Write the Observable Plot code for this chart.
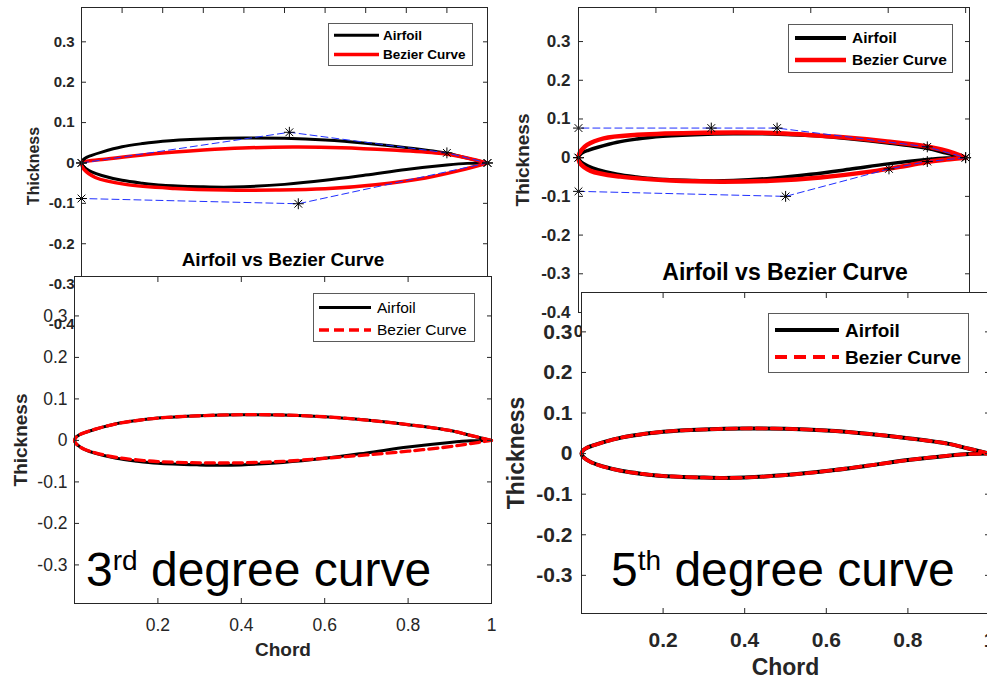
<!DOCTYPE html>
<html>
<head>
<meta charset="utf-8">
<script src="https://cdn.jsdelivr.net/npm/d3@7"></script>
<script src="https://cdn.jsdelivr.net/npm/@observablehq/plot@0.6"></script>
<style>
html, body { margin: 0; padding: 0; background: #fff; overflow: hidden; }
#stage { position: relative; width: 987px; height: 680px; overflow: hidden; background: #fff;
  font-family: "Liberation Sans", Arial, Helvetica, sans-serif; }
.panel { position: absolute; }
.panel svg { overflow: visible; max-width: none; }
.legend { position: absolute; background: #fff; border: 1px solid #5a5a5a; box-sizing: border-box; }
.legend .lab { position: absolute; white-space: nowrap; line-height: 1; color: #000; }
.legend svg { position: absolute; left: 0; top: 0; overflow: visible; }
.txt { position: absolute; white-space: nowrap; line-height: 1; color: #000; }
</style>
</head>
<body>
<div id="stage"></div>
<script>
// ---------------- data ----------------
const legendLabels = ["Airfoil", "Bezier Curve"];
const titleText = "Airfoil vs Bezier Curve";
const xAxisLabel = "Chord";
const yAxisLabel = "Thickness";

// airfoil surface
const chordUpper = [0, 0.004, 0.0125, 0.025, 0.05, 0.1, 0.15, 0.2, 0.3, 0.4, 0.5, 0.6, 0.7, 0.8, 0.9, 0.95, 1];
const thickUpper = [0, 0.008, 0.014, 0.019, 0.027, 0.040, 0.048, 0.054, 0.0595, 0.062, 0.0612, 0.057, 0.049, 0.038, 0.024, 0.012, 0];
const chordLower = [0, 0.004, 0.0125, 0.025, 0.05, 0.1, 0.15, 0.2, 0.3, 0.35, 0.4, 0.5, 0.6, 0.7, 0.8, 0.9, 0.95, 1];
const thickLower = [0, -0.008, -0.015, -0.022, -0.031, -0.043, -0.050, -0.055, -0.059, -0.060, -0.059, -0.053, -0.043, -0.030, -0.016, -0.005, -0.001, 0];

// top-left: first 3rd degree Bezier attempt
const tlBezChordU = [0, 0.067, 0.15, 0.23, 0.3, 0.396, 0.52, 0.64, 0.765, 0.888, 0.95, 1];
const tlBezThickU = [0, 0.0105, 0.02, 0.027, 0.032, 0.037, 0.0395, 0.038, 0.032, 0.0235, 0.0125, 0];
const tlBezChordL = [0, 0.002, 0.006, 0.034, 0.108, 0.23, 0.355, 0.478, 0.6, 0.724, 0.847, 0.93, 1];
const tlBezThickL = [0, -0.008, -0.016, -0.036, -0.053, -0.063, -0.067, -0.067, -0.064, -0.054, -0.037, -0.019, 0];
const tlCtrlChordU = [0, 0.512, 0.9, 1];
const tlCtrlThickU = [0, 0.076, 0.025, 0];
const tlCtrlChordL = [0, 0, 0.534, 1];
const tlCtrlThickL = [0, -0.088, -0.101, 0];

// top-right: 5th degree Bezier attempt
const trBezChordU = [0, 0.002, 0.008, 0.022, 0.065, 0.152, 0.324, 0.496, 0.668, 0.797, 0.9, 0.97, 1];
const trBezThickU = [0, 0.01, 0.02, 0.033, 0.050, 0.059, 0.0645, 0.064, 0.054, 0.042, 0.029, 0.012, 0];
const trBezChordL = [0, 0.001, 0.005, 0.031, 0.108, 0.238, 0.367, 0.496, 0.625, 0.754, 0.84, 0.9, 0.95, 1];
const trBezThickL = [0, -0.007, -0.016, -0.034, -0.049, -0.059, -0.062, -0.0595, -0.051, -0.036, -0.022, -0.011, -0.005, 0];
const trCtrlChordU = [0, 0, 0.343, 0.513, 0.901, 1];
const trCtrlThickU = [0, 0.0765, 0.0765, 0.0765, 0.028, 0];
const trCtrlChordL = [0, 0, 0.535, 0.802, 0.901, 1];
const trCtrlThickL = [0, -0.087, -0.100, -0.029, -0.010, 0];

// bottom-left: fitted 3rd degree curve (upper matches airfoil)
const blBezChordL = [0, 0.004, 0.0125, 0.025, 0.05, 0.1, 0.15, 0.2, 0.3, 0.4, 0.5, 0.6, 0.7, 0.8, 0.9, 0.95, 1];
const blBezThickL = [0, -0.008, -0.015, -0.022, -0.030, -0.041, -0.047, -0.051, -0.054, -0.054, -0.0505, -0.043, -0.035, -0.026, -0.015, -0.0075, 0];

// ticks
const tlXTicks = [0, 0.1, 0.2, 0.3, 0.4, 0.5, 0.6, 0.7, 0.8, 0.9, 1];
const tlXLabels = [];            // hidden behind lower panel
const tlYTicks = [-0.4, -0.3, -0.2, -0.1, 0, 0.1, 0.2, 0.3];
const trXTicks = [0, 0.2, 0.4, 0.6, 0.8, 1];
const trXLabels = [0];           // only the "0" peeks out
const trYTicks = [-0.4, -0.3, -0.2, -0.1, 0, 0.1, 0.2, 0.3];
const bXTicks = [0.2, 0.4, 0.6, 0.8, 1];
const bYTicks = [-0.3, -0.2, -0.1, 0, 0.1, 0.2, 0.3];

// ---------------- helpers ----------------
const FONT = '"Liberation Sans", Arial, Helvetica, sans-serif';
const INK = "#262626";
const fmt = d => String(d);
const pts = (xs, ys) => xs.map((x, i) => ({x, y: ys[i]}));
function closed(xu, yu, xl, yl) {
  const r = [];
  for (let i = xu.length - 1; i >= 0; i--) r.push({x: xu[i], y: yu[i]});
  for (let i = 1; i < xl.length; i++) r.push({x: xl[i], y: yl[i]});
  return r;
}
const stage = document.getElementById("stage");

function panel(c) {
  const marks = [];
  if (c.white) marks.push(Plot.frame({fill: "white", stroke: "none"}));
  marks.push(...c.data);
  marks.push(Plot.frame({stroke: INK, strokeWidth: 1}));
  // inward ticks on all four sides
  marks.push(Plot.axisY(c.yTicks, {anchor: "left", tickSize: -5, fill: "none", stroke: INK, label: null}));
  marks.push(Plot.axisY(c.yTicks, {anchor: "right", tickSize: -5, fill: "none", stroke: INK, label: null}));
  marks.push(Plot.axisX(c.xTicks, {anchor: "top", tickSize: -5, fill: "none", stroke: INK, label: null}));
  marks.push(Plot.axisX(c.xTicks, {anchor: "bottom", tickSize: -5, fill: "none", stroke: INK, label: null}));
  // tick labels
  marks.push(Plot.axisY(c.yTicks, {anchor: "left", tickSize: 0, tickPadding: c.yPad, tickFormat: fmt,
    fontSize: c.tickSize, fontWeight: c.tickWeight, fill: INK, label: null}));
  const xl = c.xLabels ?? c.xTicks;
  if (xl.length) {
    marks.push(Plot.axisX(xl, {anchor: "bottom", tickSize: 0, tickPadding: c.xPad, tickFormat: fmt,
      fontSize: c.tickSize, fontWeight: c.tickWeight, fill: INK, label: null}));
  }
  // axis titles
  marks.push(Plot.axisY([], {anchor: "left", tickSize: 0, label: yAxisLabel, labelAnchor: "center",
    labelArrow: "none", labelOffset: c.yLabelOffset, fontSize: c.labelSize, fontWeight: "bold", fill: INK}));
  if (c.xLabelOffset != null) {
    marks.push(Plot.axisX([], {anchor: "bottom", tickSize: 0, label: xAxisLabel, labelAnchor: "center",
      labelArrow: "none", labelOffset: c.xLabelOffset, fontSize: c.labelSize, fontWeight: "bold", fill: INK}));
  }
  const svg = Plot.plot({
    width: c.width, height: c.height,
    marginTop: c.m[0], marginRight: c.m[1], marginBottom: c.m[2], marginLeft: c.m[3],
    x: {domain: c.xDomain}, y: {domain: c.yDomain},
    style: {fontFamily: FONT, overflow: "visible", maxWidth: "none", background: "transparent"},
    marks
  });
  const div = document.createElement("div");
  div.className = "panel";
  div.style.left = c.left + "px"; div.style.top = c.top + "px";
  div.style.width = c.width + "px"; div.style.height = c.height + "px";
  div.appendChild(svg);
  stage.appendChild(div);
}

function legend(c) {
  const d = document.createElement("div");
  d.className = "legend";
  Object.assign(d.style, {left: c.left + "px", top: c.top + "px", width: c.w + "px", height: c.h + "px"});
  const ns = "http://www.w3.org/2000/svg";
  const s = document.createElementNS(ns, "svg");
  s.setAttribute("width", c.w); s.setAttribute("height", c.h);
  c.items.forEach((it, i) => {
    const l = document.createElementNS(ns, "line");
    l.setAttribute("x1", c.x1); l.setAttribute("x2", c.x2);
    l.setAttribute("y1", it.y); l.setAttribute("y2", it.y);
    l.setAttribute("stroke", it.color); l.setAttribute("stroke-width", it.w);
    if (it.dash) l.setAttribute("stroke-dasharray", it.dash);
    s.appendChild(l);
    const t = document.createElement("span");
    t.className = "lab";
    t.textContent = legendLabels[i];
    Object.assign(t.style, {left: c.tx + "px", top: (it.y + 0.36 * c.fs - 0.8465 * c.fs) + "px",
      fontSize: c.fs + "px", fontWeight: c.weight});
    d.appendChild(t);
  });
  d.insertBefore(s, d.firstChild);
  stage.appendChild(d);
}

function text(html, c) {
  const t = document.createElement("div");
  t.className = "txt";
  t.innerHTML = html;
  Object.assign(t.style, {left: c.x + "px", top: (c.baseline - 0.8465 * c.fs) + "px", fontSize: c.fs + "px",
    fontWeight: c.weight || "normal"});
  if (c.center) t.style.transform = "translateX(-50%)";
  stage.appendChild(t);
}

const line = (rows, o) => Plot.line(rows, {x: "x", y: "y", curve: "catmull-rom", ...o});
const stars = rows => [
  Plot.dot(rows, {x: "x", y: "y", symbol: "plus", r: 3.6, stroke: "black", strokeWidth: 1}),
  Plot.dot(rows, {x: "x", y: "y", symbol: "times", r: 3.6, stroke: "black", strokeWidth: 1})
];
const airfoil = closed(chordUpper, thickUpper, chordLower, thickLower);

// ---------------- top-left ----------------
panel({
  left: 0, top: 0, width: 497, height: 354, m: [7, 10, 30, 81],
  xDomain: [0, 1], yDomain: [-0.4, 0.385], xTicks: tlXTicks, xLabels: tlXLabels, yTicks: tlYTicks,
  tickSize: 15, tickWeight: "bold", yPad: 7, xPad: 8, labelSize: 16, yLabelOffset: 53.5,
  data: [
    line(airfoil, {stroke: "black", strokeWidth: 3}),
    line(closed(tlBezChordU, tlBezThickU, tlBezChordL, tlBezThickL), {stroke: "red", strokeWidth: 3.5}),
    Plot.line(pts(tlCtrlChordU, tlCtrlThickU), {x: "x", y: "y", stroke: "#1f2fff", strokeWidth: 1, strokeDasharray: "7,4"}),
    Plot.line(pts(tlCtrlChordL, tlCtrlThickL), {x: "x", y: "y", stroke: "#1f2fff", strokeWidth: 1, strokeDasharray: "7,4"}),
    ...stars(pts(tlCtrlChordU, tlCtrlThickU)),
    ...stars(pts(tlCtrlChordL, tlCtrlThickL))
  ]
});
text(titleText, {x: 283, baseline: 266, fs: 19, weight: "bold", center: true});
legend({left: 328, top: 23, w: 145, h: 43, x1: 5, x2: 50, tx: 54, fs: 13.5, weight: "bold",
  items: [{y: 11.3, color: "black", w: 3}, {y: 30.5, color: "red", w: 3.5}]});

// ---------------- top-right ----------------
panel({
  left: 480, top: 0, width: 510, height: 360, m: [7, 21, 48, 98],
  xDomain: [0, 1.01], yDomain: [-0.4, 0.388], xTicks: trXTicks, xLabels: trXLabels, yTicks: trYTicks,
  tickSize: 17, tickWeight: "bold", yPad: 8, xPad: 12, labelSize: 19, yLabelOffset: 63,
  data: [
    line(airfoil, {stroke: "black", strokeWidth: 3.5}),
    line(closed(trBezChordU, trBezThickU, trBezChordL, trBezThickL), {stroke: "red", strokeWidth: 4.5}),
    Plot.line(pts(trCtrlChordU, trCtrlThickU), {x: "x", y: "y", stroke: "#1f2fff", strokeWidth: 1, strokeDasharray: "7,4"}),
    Plot.line(pts(trCtrlChordL, trCtrlThickL), {x: "x", y: "y", stroke: "#1f2fff", strokeWidth: 1, strokeDasharray: "7,4"}),
    ...stars(pts(trCtrlChordU, trCtrlThickU)),
    ...stars(pts(trCtrlChordL, trCtrlThickL))
  ]
});
text(titleText, {x: 785, baseline: 280, fs: 23, weight: "bold", center: true});
legend({left: 788, top: 24, w: 165, h: 49, x1: 6, x2: 57, tx: 63, fs: 15.5, weight: "bold",
  items: [{y: 13, color: "black", w: 4}, {y: 35, color: "red", w: 4.5}]});

// ---------------- bottom-left ----------------
panel({
  left: 0, top: 260, width: 500, height: 420, m: [16, 9, 77, 74], white: true,
  xDomain: [0, 1], yDomain: [-0.393, 0.395], xTicks: bXTicks, yTicks: bYTicks,
  tickSize: 17.5, tickWeight: "normal", yPad: 7, xPad: 15, labelSize: 19, yLabelOffset: 61.5, xLabelOffset: 52,
  data: [
    line(airfoil, {stroke: "black", strokeWidth: 3}),
    line(closed(chordUpper, thickUpper, blBezChordL, blBezThickL), {stroke: "red", strokeWidth: 3.3, strokeDasharray: "9,5"})
  ]
});
legend({left: 313, top: 293, w: 162, h: 49, x1: 5, x2: 57, tx: 63, fs: 15.5, weight: "normal",
  items: [{y: 13.5, color: "black", w: 3}, {y: 36, color: "red", w: 3.3, dash: "10,5"}]});
text('3<span style="font-size:28px;position:relative;top:-16px">rd</span> degree curve', {x: 86, baseline: 587, fs: 48});

// ---------------- bottom-right ----------------
panel({
  left: 480, top: 280, width: 520, height: 400, m: [12, 11, 67, 101], white: true,
  xDomain: [0, 1], yDomain: [-0.394, 0.397], xTicks: bXTicks, yTicks: bYTicks,
  tickSize: 21, tickWeight: "bold", yPad: 9, xPad: 19, labelSize: 23, yLabelOffset: 74, xLabelOffset: 61,
  data: [
    line(airfoil, {stroke: "black", strokeWidth: 4}),
    line(closed(chordUpper, thickUpper, chordLower, thickLower), {stroke: "red", strokeWidth: 3.6, strokeDasharray: "10,5"})
  ]
});
legend({left: 768, top: 313, w: 201, h: 60, x1: 6, x2: 70, tx: 76, fs: 19, weight: "bold",
  items: [{y: 16, color: "black", w: 4}, {y: 43, color: "red", w: 4, dash: "12,7"}]});
text('5<span style="font-size:28px;position:relative;top:-16px">th</span> degree curve', {x: 611, baseline: 587, fs: 48});
</script>
</body>
</html>
